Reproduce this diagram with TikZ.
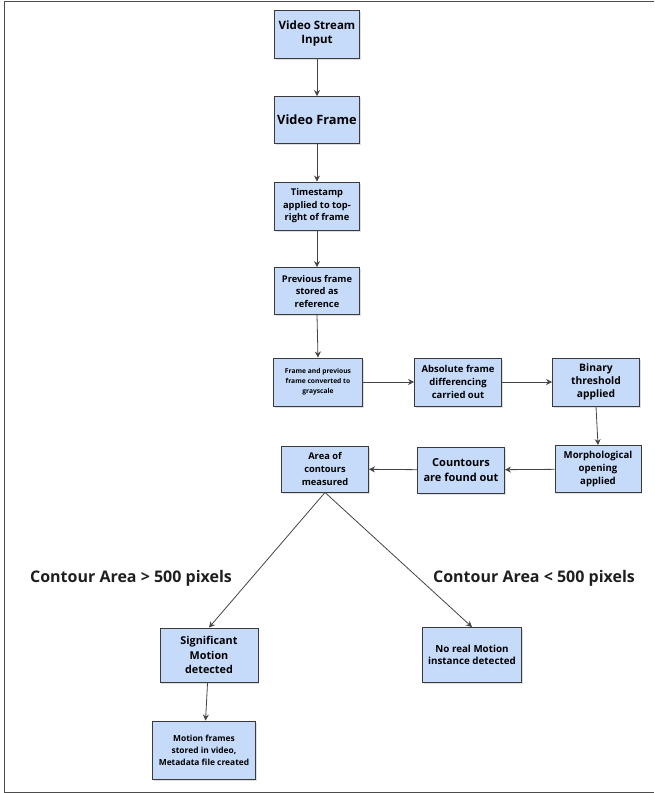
\documentclass[tikz,border=0pt]{standalone}
\usepackage{fontspec}
\setmainfont{Open Sans}
\usetikzlibrary{arrows.meta,shadows}
\definecolor{boxfill}{HTML}{C6DAFA}
\definecolor{boxline}{HTML}{3A3A3A}
\definecolor{arr}{HTML}{444444}
\begin{document}
\begin{tikzpicture}[x=1pt,y=-1pt,
  box/.style={draw=boxline,line width=0.9pt,fill=boxfill,align=center,inner sep=1pt,
    font=\bfseries,drop shadow={shadow xshift=1pt,shadow yshift=-1.5pt,opacity=0.25}},
  conn/.style={draw=arr,line width=0.8pt,-{Stealth[length=6pt,width=6pt]}},
  lab/.style={font=\bfseries\fontsize{16}{18}\selectfont,text=black!88}]
\useasboundingbox (0,0) rectangle (654,793);
\draw[black!70,line width=1pt] (654,1) -- (4,1) -- (4,792) -- (654,792);
\node[box,minimum width=85pt,minimum height=48pt,font=\bfseries\fontsize{11.5}{14}\selectfont] (n1) at (317,34) {Video Stream\\Input};
\node[box,minimum width=85pt,minimum height=47pt,font=\bfseries\fontsize{12.8}{15}\selectfont] (n2) at (317,120) {Video Frame};
\node[box,minimum width=85pt,minimum height=48pt,font=\bfseries\fontsize{9.3}{12.5}\selectfont] (n3) at (317,206) {Timestamp\\applied to top-\\right of frame};
\node[box,minimum width=85pt,minimum height=47pt,font=\bfseries\fontsize{9.3}{12.5}\selectfont] (n4) at (317,291) {Previous frame\\stored as\\reference};
\node[box,minimum width=89pt,minimum height=48pt,font=\bfseries\fontsize{6.7}{10}\selectfont] (n5) at (318,382) {Frame and previous\\frame converted to\\grayscale};
\node[box,minimum width=87pt,minimum height=48pt,font=\bfseries\fontsize{9.5}{13}\selectfont] (n6) at (458,382) {Absolute frame\\differencing\\carried out};
\node[box,minimum width=87pt,minimum height=48pt,font=\bfseries\fontsize{10.3}{13}\selectfont] (n7) at (596,382) {Binary\\threshold\\applied};
\node[box,minimum width=86pt,minimum height=47pt,font=\bfseries\fontsize{9.6}{13}\selectfont] (n8) at (598,469) {Morphological\\opening\\applied};
\node[box,minimum width=87pt,minimum height=46pt,font=\bfseries\fontsize{11}{15}\selectfont] (n9) at (461,470) {Countours\\are found out};
\node[box,minimum width=87pt,minimum height=46pt,font=\bfseries\fontsize{9.3}{13}\selectfont] (n10) at (325,469) {Area of\\contours\\measured};
\node[box,minimum width=98pt,minimum height=54pt,font=\bfseries\fontsize{10.8}{14.5}\selectfont] (n11) at (209,655) {Significant\\Motion\\detected};
\node[box,minimum width=103pt,minimum height=58pt,font=\bfseries\fontsize{8.4}{12}\selectfont] (n12) at (204,750) {Motion frames\\stored in video,\\Metadata file created};
\node[box,minimum width=99pt,minimum height=55pt,font=\bfseries\fontsize{9.8}{12.5}\selectfont] (n13) at (472,655) {No real Motion\\instance detected};
\node[lab] (l1) at (131,578) {Contour Area > 500 pixels};
\node[lab] (l2) at (534,578) {Contour Area < 500 pixels};
\draw[conn] (n1) -- (n2);
\draw[conn] (n2) -- (n3);
\draw[conn] (n3) -- (n4);
\draw[conn] (n4.south) -- (n5.north);
\draw[conn] (n5) -- (n6);
\draw[conn] (n6) -- (n7);
\draw[conn] (n7.south) -- (n8.north);
\draw[conn] (n8) -- (n9);
\draw[conn] (n9) -- (n10);
\draw[conn] (n10.south) -- (n11.north);
\draw[conn] (n10.south) -- (n13.north);
\draw[conn] (n11) -- (n12);
\end{tikzpicture}
\end{document}
